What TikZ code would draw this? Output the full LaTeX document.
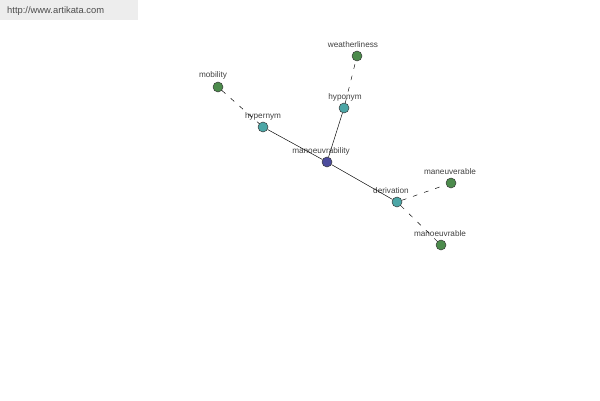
\documentclass[tikz,border=0pt]{standalone}
\usepackage{fontspec}
\setmainfont{Liberation Sans}
\usetikzlibrary{positioning}

\begin{document}
\begin{tikzpicture}[x=0.03cm, y=-0.03cm,
        every node/.style={font=\fontsize{7}{8}\selectfont, text=black!75},
        vert/.style={circle, draw=black!80, minimum size=0.3cm, inner sep=0pt},
        lbl/.style={inner sep=0pt},
        gap/.style={dash pattern=on 4pt off 6pt}]
        \useasboundingbox (0,0) rectangle (600,400);
        % banner
        \fill[black!7] (0,0) rectangle (138,20);
        \node[lbl, anchor=west, text=black!70, font=\fontsize{8}{9}\selectfont] (site) at (7,11) {http://www.artikata.com};
        
        % word nodes
        \node[vert, fill=blue!45!black!70!white] (manoeuvrability) at (327,162) {};
        \node[vert, fill=teal!70!white] (hypernym) at (263,127) {};
        \node[vert, fill=teal!70!white] (hyponym) at (344,108) {};
        \node[vert, fill=teal!70!white] (derivation) at (397,202) {};
        \node[vert, fill=green!35!black!70!white] (mobility) at (218,87) {};
        \node[vert, fill=green!35!black!70!white] (weatherliness) at (357,56) {};
        \node[vert, fill=green!35!black!70!white] (maneuverable) at (451,183) {};
        \node[vert, fill=green!35!black!70!white] (manoeuvrable) at (441,245) {};
        
        % labels
        \node[lbl] (lmanoeuvrability) at (321,151) {manoeuvrability};
        \node[lbl] (lhypernym) at (263,116) {hypernym};
        \node[lbl] (lhyponym) at (345,97) {hyponym};
        \node[lbl] (lderivation) at (391,191) {derivation};
        \node[lbl] (lmobility) at (213,75) {mobility};
        \node[lbl] (lweatherliness) at (353,45) {weatherliness};
        \node[lbl] (lmaneuverable) at (450,172) {maneuverable};
        \node[lbl] (lmanoeuvrable) at (440,234) {manoeuvrable};
        
        \draw (hypernym) -- (manoeuvrability);
        \draw (manoeuvrability) -- (hyponym);
        \draw (manoeuvrability) -- (derivation);
        \draw[gap] (mobility) -- (hypernym);
        \draw[gap] (hyponym) -- (weatherliness);
        \draw[gap] (derivation) -- (maneuverable);
        \draw[gap] (derivation) -- (manoeuvrable);
    \end{tikzpicture}
\end{document}
